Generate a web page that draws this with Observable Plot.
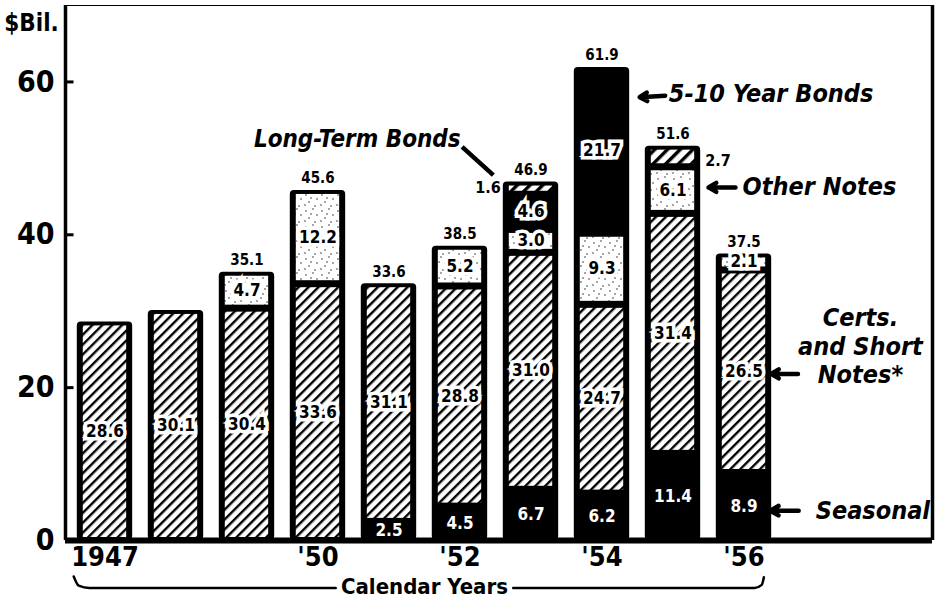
<!DOCTYPE html>
<html>
<head>
<meta charset="utf-8">
<script src="https://cdn.jsdelivr.net/npm/d3@7"></script>
<script src="https://cdn.jsdelivr.net/npm/@observablehq/plot@0.6"></script>
<style>
  html, body { margin: 0; padding: 0; background: #fff; }
</style>
</head>
<body>
<div id="chart"></div>
<script>
// ---- data ----
const years = [1947, 1948, 1949, 1950, 1951, 1952, 1953, 1954, 1955, 1956];
const seasonal      = [0, 0, 0, 0, 2.5, 4.5, 6.7, 6.2, 11.4, 8.9];
const certsShort    = [28.6, 30.1, 30.4, 33.6, 31.1, 28.8, 31.0, 24.7, 31.4, 26.5];
const otherNotes    = [0, 0, 4.7, 12.2, 0, 5.2, 3.0, 9.3, 6.1, 2.1];
const bonds5to10    = [0, 0, 0, 0, 0, 0, 4.6, 21.7, 0, 0];
const longTermBonds = [0, 0, 0, 0, 0, 0, 1.6, 0, 2.7, 0];
const totalLabels   = ["", "", "35.1", "45.6", "33.6", "38.5", "46.9", "61.9", "51.6", "37.5"];
const xTickYears  = [1947, 1950, 1952, 1954, 1956];
const xTickLabels = ["1947", "'50", "'52", "'54", "'56"];
const yTicks = [0, 20, 40, 60];
const seriesNames = ["Seasonal", "Certs. and Short Notes", "Other Notes", "5-10 Year Bonds", "Long-Term Bonds"];
const seriesValues = [seasonal, certsShort, otherNotes, bonds5to10, longTermBonds];

// ---- derived tables ----
const segments = [];
years.forEach((year, i) => {
  let base = 0;
  seriesNames.forEach((series, k) => {
    const v = seriesValues[k][i];
    if (v > 0) {
      segments.push({year, series, value: v, y1: base, y2: base + v, label: v.toFixed(1)});
      base += v;
    }
  });
});
const totals = years.map((year, i) => ({year, total: d3.sum(seriesValues, a => a[i]), label: totalLabels[i]}));

// ---- style constants ----
const HALF = 0.39;
const xDomain = [1946.444, 1958.655];
const FONT = "'DejaVu Sans Condensed', 'DejaVu Sans', sans-serif";
const x1 = d => d.year - HALF, x2 = d => d.year + HALF;
const isOutside = d => d.series === "Long-Term Bonds";
const lightFill = {
  "Certs. and Short Notes": "url(#hatchCerts)",
  "Other Notes": "url(#speckle)",
  "Long-Term Bonds": "url(#hatchLong)"
};

const lightMarks = Object.entries(lightFill).map(([series, fill]) =>
  Plot.rectY(segments.filter(d => d.series === series), {
    x1, x2, y1: "y1", y2: "y2", fill,
    insetLeft: 6, insetRight: 6, insetTop: 4, insetBottom: 3
  })
);

const annotationsStart = [
  {x: 1954.94, y: 58.4, text: "5-10 Year Bonds"},
  {x: 1955.98, y: 46.2, text: "Other Notes"},
  {x: 1957.01, y: 3.8, text: "Seasonal"}
];
const annotationsEnd = [
  {x: 1952.01, y: 52.5, text: "Long-Term Bonds"}
];
const arrows = [
  {x1: 1954.89, x2: 1954.53, y1: 58.2, y2: 58.0},
  {x1: 1955.88, x2: 1955.50, y1: 46.2, y2: 46.2},
  {x1: 1956.76, x2: 1956.38, y1: 21.8, y2: 21.8},
  {x1: 1956.77, x2: 1956.37, y1: 3.9, y2: 3.9}
];
const bracket = [
  {side: "L", x: 1946.56, y: -4.7}, {side: "L", x: 1946.63, y: -5.9}, {side: "L", x: 1946.78, y: -6.2}, {side: "L", x: 1950.25, y: -6.2},
  {side: "R", x: 1952.75, y: -6.2}, {side: "R", x: 1956.15, y: -6.2}, {side: "R", x: 1956.25, y: -5.8}, {side: "R", x: 1956.28, y: -4.8}
];

const svg = Plot.plot({
  width: 940,
  height: 601,
  marginLeft: 65,
  marginRight: 8,
  marginTop: 5,
  marginBottom: 61,
  style: {fontFamily: FONT, background: "white", overflow: "visible"},
  x: {type: "linear", domain: xDomain},
  y: {domain: [0, 70]},
  marks: [
    // whole bars (black body)
    Plot.rectY(totals, {x1, x2, y1: 0, y2: "total", fill: "black", rx: 4}),
    ...lightMarks,
    // frame / axes lines
    Plot.ruleY([70], {stroke: "black", strokeWidth: 1.2}),
    Plot.ruleX([xDomain[0]], {stroke: "black", strokeWidth: 3.5}),
    Plot.ruleX([xDomain[1]], {stroke: "black", strokeWidth: 3.5}),
    Plot.ruleY([0], {stroke: "black", strokeWidth: 6}),
    Plot.ruleY(yTicks.filter(v => v > 0), {x1: xDomain[0], x2: xDomain[0] + 0.12, stroke: "black", strokeWidth: 3}),
    Plot.axisY({ticks: yTicks, tickSize: 0, tickPadding: 11, fontSize: 30, fontWeight: "bold", label: null}),
    Plot.axisX({ticks: xTickYears, tickFormat: d => xTickLabels[xTickYears.indexOf(d)], tickSize: 0, tickPadding: 6, fontSize: 27, fontWeight: "bold", label: null}),
    // $Bil.
    Plot.text(["$Bil."], {x: xDomain[0], y: 70, dx: -34, dy: 18, fontSize: 24, fontWeight: "bold"}),
    // segment labels
    Plot.text(segments.filter(d => d.series !== "Seasonal" && !isOutside(d)), {
      x: "year", y: d => (d.y1 + d.y2) / 2, text: "label",
      fontSize: 17, fontWeight: "bold", fill: "black", stroke: "white", strokeWidth: 7, strokeLinejoin: "miter"
    }),
    Plot.text(segments.filter(d => d.series === "Seasonal"), {
      x: "year", y: d => (d.y1 + d.y2) / 2, text: "label",
      fontSize: 17, fontWeight: "bold", fill: "white"
    }),
    Plot.text(segments.filter(d => isOutside(d) && d.year === 1953), {
      x: "year", y: d => (d.y1 + d.y2) / 2, text: "label", dx: -43, fontSize: 16, fontWeight: "bold"
    }),
    Plot.text(segments.filter(d => isOutside(d) && d.year === 1955), {
      x: "year", y: d => (d.y1 + d.y2) / 2, text: "label", dx: 45, dy: 4, fontSize: 16, fontWeight: "bold"
    }),
    // totals
    Plot.text(totals.filter(d => d.label), {x: "year", y: "total", text: "label", dy: -12, fontSize: 15, fontWeight: "bold"}),
    // annotations
    Plot.text(annotationsStart, {x: "x", y: "y", text: "text", textAnchor: "start", fontSize: 25, fontWeight: "bold", fontStyle: "italic"}),
    Plot.text(annotationsEnd, {x: "x", y: "y", text: "text", textAnchor: "end", fontSize: 24, fontWeight: "bold", fontStyle: "italic"}),
    Plot.text(["Certs.\nand Short\nNotes*"], {x: 1957.64, y: 25.55, fontSize: 25, lineHeight: 1.16, fontWeight: "bold", fontStyle: "italic"}),
    Plot.arrow(arrows, {x1: "x1", y1: "y1", x2: "x2", y2: "y2", stroke: "black", strokeWidth: 4.5, headLength: 9}),
    Plot.link([{x1: 1952.03, y1: 51.5, x2: 1952.47, y2: 47.8}], {x1: "x1", y1: "y1", x2: "x2", y2: "y2", stroke: "black", strokeWidth: 4.5}),
    // calendar years
    Plot.line(bracket, {x: "x", y: "y", z: "side", stroke: "black", strokeWidth: 2.5, curve: "monotone-x"}),
    Plot.text(["Calendar Years"], {x: 1951.5, y: -6.03, fontSize: 22, fontWeight: "bold"})
  ]
});

// patterns
const defs = d3.select(svg).insert("defs", ":first-child");
function hatch(id, spacing, width) {
  const p = defs.append("pattern").attr("id", id).attr("patternUnits", "userSpaceOnUse")
    .attr("width", spacing).attr("height", spacing).attr("patternTransform", "rotate(45)");
  p.append("rect").attr("width", spacing).attr("height", spacing).attr("fill", "white");
  p.append("rect").attr("width", width).attr("height", spacing).attr("fill", "black");
}
hatch("hatchCerts", 7, 2.4);
hatch("hatchLong", 9, 3.4);
const sp = defs.append("pattern").attr("id", "speckle").attr("patternUnits", "userSpaceOnUse").attr("width", 16).attr("height", 16);
sp.append("rect").attr("width", 16).attr("height", 16).attr("fill", "white");
[[2, 3], [9, 1], [13, 7], [5, 10], [11, 14], [1, 13], [7, 6]].forEach(([cx, cy]) =>
  sp.append("circle").attr("cx", cx).attr("cy", cy).attr("r", 0.8).attr("fill", "#333"));

document.getElementById("chart").appendChild(svg);
</script>
</body>
</html>
